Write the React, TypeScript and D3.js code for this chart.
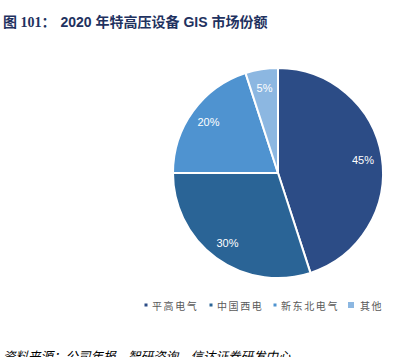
import React from "react";
import * as d3 from "d3";

const categories = ["平高电气", "中国西电", "新东北电气", "其他"];
const values = [45, 30, 20, 5];
const colors = ["#2C4C86", "#2A6496", "#4F93D0", "#8CB7E1"];
const legendMarkerSizes = [3, 3, 3, 6];

export default function App() {
  const W = 413, H = 357;
  const cx = 278, cy = 173, r = 105;
  const pie = d3.pie<number>().sort(null).value((d) => d);
  const arcs = pie(values);
  const arc = d3.arc<d3.PieArcDatum<number>>().innerRadius(0).outerRadius(r);
  const labelArc = d3.arc<d3.PieArcDatum<number>>().innerRadius(86).outerRadius(86);
  const legendX = [146, 211, 275, 351];
  return (
    <svg width={W} height={H} style={{ position: "absolute", left: 0, top: 0, background: "#fff" }}>
      <text x={3} y={27} fontSize={14} fontWeight="bold" fill="#1F3260" fontFamily="'Noto Sans CJK SC', sans-serif">
        <tspan fontFamily="'Liberation Serif', 'Noto Sans CJK SC', serif">图 101：</tspan>
        <tspan dx={5} fontFamily="'Liberation Sans', 'Noto Sans CJK SC', sans-serif">2020 年特高压设备 GIS 市场份额</tspan>
      </text>
      <g transform={`translate(${cx},${cy})`}>
        {arcs.map((a, i) => (
          <path key={i} d={arc(a) || ""} fill={colors[i]} stroke="#fff" strokeWidth={2} strokeLinejoin="round" />
        ))}
        {arcs.map((a, i) => {
          const [x, y] = labelArc.centroid(a);
          return (
            <text key={"l" + i} x={x} y={y} textAnchor="middle" dominantBaseline="central" fill="#fff" fontSize={11}
              fontFamily="'Liberation Sans', Arial, sans-serif">
              {values[i]}%
            </text>
          );
        })}
      </g>
      {categories.map((c, i) => {
        const s = legendMarkerSizes[i];
        return (
          <g key={"lg" + i}>
            <rect x={legendX[i] - s / 2} y={305 - s / 2} width={s} height={s} fill={colors[i]} />
            <text x={legendX[i] + (i === 3 ? 9 : 6)} y={305} dominantBaseline="central" fontSize={10} letterSpacing={1.6}
              fill="#595959" fontFamily="'Noto Sans CJK SC', sans-serif">{c}</text>
          </g>
        );
      })}
      <text x={3} y={361} fontSize={12.5} fontStyle="italic" fill="#000" fontFamily="'Noto Sans CJK SC', sans-serif">
        资料来源：公司年报，智研咨询，信达证券研发中心
      </text>
    </svg>
  );
}
